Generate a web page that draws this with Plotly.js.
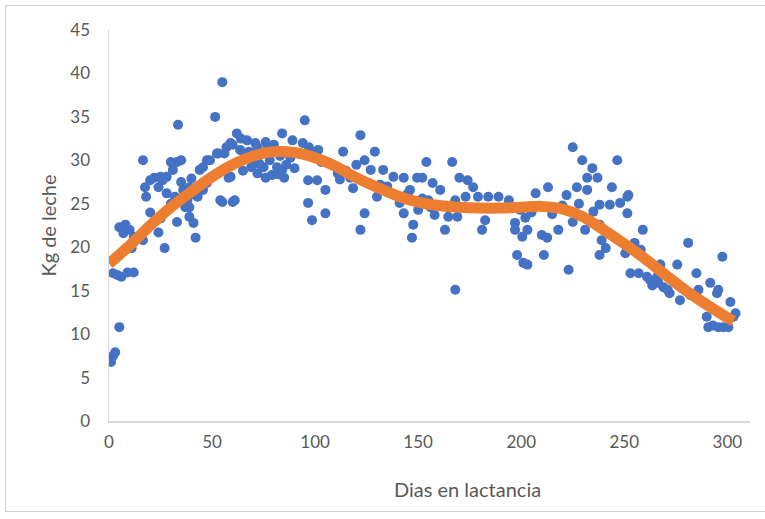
<!DOCTYPE html>
<html>
<head>
<meta charset="utf-8">
<script src="https://cdn.plot.ly/plotly-3.0.1.min.js"></script>
<style>
  html, body { margin: 0; padding: 0; background: #ffffff; }
  #wrap { position: relative; width: 765px; height: 519px; overflow: hidden; }
  #frame { position: absolute; left: 5px; top: 5px; width: 780px; height: 507px; border: 1px solid #d0d0d0; box-sizing: border-box; }
  #chart { position: absolute; left: 0; top: 0; width: 765px; height: 519px; }
</style>
</head>
<body>
<div id="wrap">
  <div id="frame"></div>
  <div id="chart"></div>
</div>
<script>
// Observed daily milk (scatter)
const dias = [
  1, 2, 3, 5, 2, 4, 6, 9, 12, 5, 8, 10, 7, 12, 11, 16.5, 16.5, 17.5, 20, 18,
  22, 24, 26, 28, 30, 33, 31, 35, 33.5, 24, 27, 33, 37, 39, 41, 42, 44, 47.5, 45.6, 43,
  38, 36, 47.5, 55, 51.5, 25, 28, 32, 39, 45.6, 49, 52.4, 57, 62, 67, 72, 59, 55, 60, 39,
  59, 56, 53, 58, 54, 61, 71, 76, 84, 89, 95, 94, 69, 72, 76, 79, 84, 85, 90, 96.6,
  96.6, 98.5, 75, 81.5, 66, 78, 88, 63.6,
  60, 64, 68, 70, 73, 77, 80, 83, 86, 92, 97, 100, 103, 65, 82,
  20, 25, 30, 35, 40, 42,
  122, 113.6, 101.5, 99, 129, 124, 127, 133, 138, 143, 149.5, 107, 111, 101, 105, 118.4, 130, 141, 143, 146,
  105, 124, 122, 147.6, 147, 154, 166.5, 152, 157, 160.7, 170, 174, 176.7, 173, 179, 184, 189, 194, 168, 155,
  158, 164.6, 169, 182.5, 181, 163, 197, 197, 200.5, 198, 201, 168, 156, 171, 187, 199.5, 131.5, 139, 117,
  112, 115, 120, 126, 135, 145, 150, 152,
  225, 229.6, 234.5, 232, 237, 246.6, 227, 232, 244, 222, 207, 213, 238, 243, 248, 251.5, 225, 231, 218, 210,
  203, 212.6, 202, 239, 241, 238, 211, 203, 223, 250.5, 253, 259, 261, 266, 263.6, 269, 275.7, 281, 272, 277,
  285, 291.7, 297.6, 295, 301.5, 290, 293, 298, 303, 252, 251.5, 255, 257, 262.6, 266.5, 271, 286, 295.6, 290.8, 295.6,
  300.5, 304, 238, 258, 267.5, 282, 287,
  205, 215, 220, 228, 235
];
const kgLeche = [
  6.8, 7.5, 7.9, 10.8, 17.0, 16.8, 16.6, 17.1, 17.1, 22.3, 22.6, 22.0, 21.6, 21.2, 19.9, 20.8, 30.0, 26.9, 27.7, 25.8,
  28.0, 26.9, 27.7, 28.1, 29.8, 29.8, 28.9, 30.0, 34.1, 21.7, 19.9, 22.9, 24.6, 23.5, 22.8, 21.1, 28.9, 30.0, 26.6, 25.8,
  25.4, 26.6, 27.4, 39.0, 35.0, 28.1, 26.2, 25.8, 26.9, 29.2, 30.0, 30.8, 31.5, 33.1, 32.3, 31.5, 28.1, 25.2, 25.2, 24.6,
  32.0, 30.8, 30.8, 28.0, 25.4, 25.4, 32.0, 32.1, 33.1, 32.3, 34.6, 32.0, 29.2, 28.5, 28.0, 28.3, 28.9, 28.0, 29.1, 27.7,
  25.1, 23.1, 29.2, 29.2, 30.6, 30.0, 30.3, 31.2,
  31.8, 32.5, 31.0, 30.2, 29.6, 31.6, 31.8, 30.5, 29.5, 30.8, 31.5, 30.6, 29.8, 28.8, 28.4,
  24.0, 23.3, 25.0, 27.5, 27.9, 26.0,
  32.9, 31.0, 31.2, 30.8, 31.0, 30.0, 28.9, 28.9, 28.1, 28.0, 28.0, 29.7, 28.5, 27.7, 26.6, 26.8, 25.8, 25.1, 23.9, 26.6,
  23.9, 23.9, 22.0, 22.6, 21.1, 29.8, 29.8, 28.0, 27.4, 26.6, 28.0, 27.7, 26.9, 25.8, 25.8, 25.8, 25.8, 25.4, 25.4, 25.4,
  23.7, 23.5, 23.5, 23.1, 22.0, 22.0, 22.8, 22.0, 21.2, 19.1, 18.2, 15.1, 24.6, 24.6, 24.5, 24.3, 27.2, 26.0, 28.0,
  27.8, 28.8, 29.5, 27.4, 27.0, 26.2, 24.3, 25.6,
  31.5, 30.0, 29.1, 28.0, 28.0, 30.0, 26.9, 26.6, 26.9, 26.0, 26.2, 26.9, 24.9, 24.9, 25.1, 25.8, 22.9, 22.0, 22.0, 21.4,
  22.0, 21.1, 23.4, 20.8, 19.9, 19.1, 19.1, 18.0, 17.4, 19.3, 17.0, 22.0, 16.6, 16.6, 15.6, 15.4, 18.0, 20.5, 14.7, 13.9,
  17.0, 15.9, 18.9, 14.7, 13.7, 12.0, 11.0, 10.8, 12.0, 26.0, 23.9, 20.5, 17.0, 16.2, 15.9, 15.1, 15.1, 15.1, 10.8, 10.8,
  10.8, 12.4, 22.6, 19.7, 18.0, 14.5, 13.9,
  24.0, 23.8, 24.8, 25.0, 24.1
];

// Fitted lactation curve
const diasTendencia = [0, 10, 20, 30, 40, 50, 60, 70, 80, 90, 100, 110, 120, 130, 140, 150, 160, 170, 180, 190, 200, 210, 220, 230, 240, 250, 260, 270, 280, 290, 300, 303];
const kgTendencia = [18.1, 20.2, 22.5, 24.6, 26.4, 28.1, 29.5, 30.5, 31.0, 30.9, 30.3, 29.3, 28.0, 26.9, 25.9, 25.2, 24.8, 24.6, 24.5, 24.5, 24.6, 24.7, 24.4, 23.5, 22.0, 20.4, 18.7, 16.8, 15.0, 13.4, 11.9, 11.5];

const xTicks = [0, 50, 100, 150, 200, 250, 300];
const yTicks = [0, 5, 10, 15, 20, 25, 30, 35, 40, 45];

const grayText = '#595959';
const axisGray = '#d9d9d9';
const fontFam = 'Lato, "Open Sans", "DejaVu Sans", sans-serif';

const traces = [
  {
    type: 'scatter', mode: 'markers', x: dias, y: kgLeche,
    marker: { color: '#4472C4', size: 10, line: { width: 0 } },
    hoverinfo: 'x+y', showlegend: false
  },
  {
    type: 'scatter', mode: 'lines', x: diasTendencia, y: kgTendencia,
    line: { color: '#ED7D31', width: 11, shape: 'spline', smoothing: 1 },
    hoverinfo: 'skip', showlegend: false
  }
];

const layout = {
  width: 765, height: 519,
  paper_bgcolor: 'rgba(0,0,0,0)', plot_bgcolor: 'rgba(0,0,0,0)',
  margin: { l: 109, r: 15, t: 30, b: 98 },
  font: { family: fontFam, size: 17, color: grayText },
  showlegend: false,
  xaxis: {
    range: [0, 311], tickvals: xTicks, ticktext: xTicks.map(String),
    showgrid: false, zeroline: false, showline: true, linecolor: axisGray, linewidth: 1.5,
    ticks: '', ticklabelstandoff: 5,
    tickfont: { family: fontFam, size: 17, color: grayText },
    fixedrange: true
  },
  yaxis: {
    range: [0, 45], tickvals: yTicks, ticktext: yTicks.map(String),
    showgrid: false, zeroline: false, showline: true, linecolor: axisGray, linewidth: 1.5,
    ticks: '', ticklabelstandoff: 14,
    tickfont: { family: fontFam, size: 17, color: grayText },
    title: { text: 'Kg de leche', font: { family: fontFam, size: 20, color: grayText }, standoff: 8 },
    fixedrange: true
  },
  annotations: [
    {
      text: 'Dias en lactancia', xref: 'paper', yref: 'paper',
      x: (467 - 109) / 641, y: -0.175, xanchor: 'center', yanchor: 'middle',
      showarrow: false, font: { family: fontFam, size: 20, color: grayText }
    }
  ]
};

Plotly.newPlot('chart', traces, layout, { displayModeBar: false, staticPlot: true });
</script>
</body>
</html>
